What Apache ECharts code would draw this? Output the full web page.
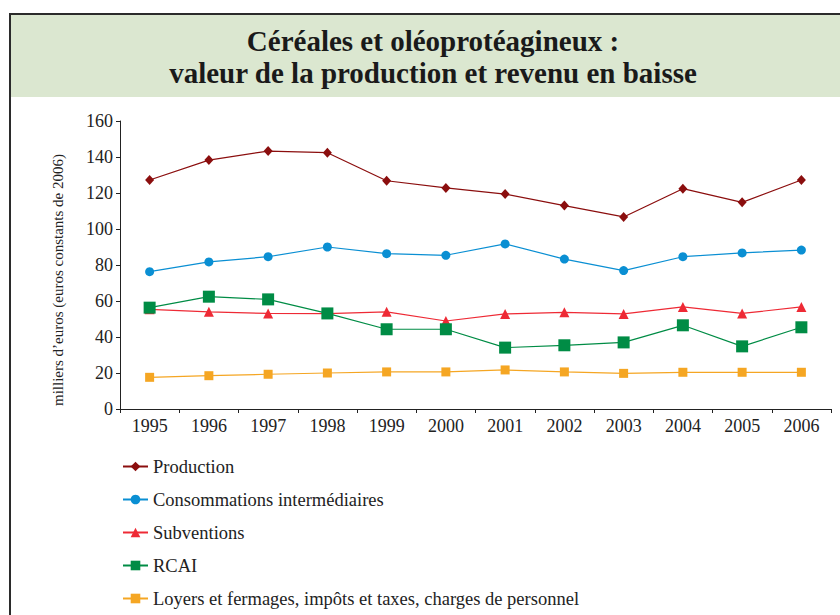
<!DOCTYPE html>
<html>
<head>
<meta charset="utf-8">
<script src="https://cdn.jsdelivr.net/npm/echarts@6/dist/echarts.min.js"></script>
<style>
  html, body { margin: 0; padding: 0; background: #fff; }
  #chart { width: 840px; height: 615px; }
</style>
</head>
<body>
<div id="chart"></div>
<script>
var years = ['1995','1996','1997','1998','1999','2000','2001','2002','2003','2004','2005','2006'];
var production = [127.2, 138.3, 143.3, 142.4, 126.8, 122.8, 119.4, 113, 106.7, 122.4, 114.8, 127.2];
var consommations = [76.3, 81.7, 84.6, 90, 86.3, 85.4, 91.7, 83.3, 76.9, 84.6, 86.7, 88.3];
var subventions = [55.4, 54, 53.1, 53, 54, 48.9, 52.8, 53.7, 52.8, 56.7, 53.1, 56.7];
var rcai = [56.3, 62.4, 60.9, 53.1, 44.3, 44.3, 34.1, 35.4, 37, 46.5, 34.8, 45.4];
var loyers = [17.6, 18.5, 19.3, 20, 20.6, 20.6, 21.7, 20.6, 19.8, 20.4, 20.4, 20.4];
var yTicks = [0, 20, 40, 60, 80, 100, 120, 140, 160];

var serif = '"Liberation Serif", "DejaVu Serif", serif';

var mychart = echarts.init(document.getElementById('chart'), null, {renderer: 'svg'});

function line(name, data, color, symbol, size) {
    return {
        name: name,
        type: 'line',
        data: data,
        symbol: symbol,
        symbolSize: size,
        showSymbol: true,
        lineStyle: { color: color, width: 1.2 },
        itemStyle: { color: color },
        emphasis: { disabled: true }
    };
}

var option = {
    animation: false,
    graphic: [
        {
            type: 'rect',
            z: -10,
            shape: { x: 10, y: 14, width: 840, height: 83 },
            style: { fill: '#dbe7d0' }
        },
        {
            type: 'rect',
            z: -9,
            shape: { x: 10, y: 14, width: 840, height: 620 },
            style: { fill: 'none', stroke: '#2b2b2b', lineWidth: 2 }
        }
    ],
    title: {
        text: 'Céréales et oléoprotéagineux :\nvaleur de la production et revenu en baisse',
        left: 428,
        top: 20,
        textAlign: 'center',
        textStyle: {
            fontFamily: serif,
            fontWeight: 'bold',
            fontSize: 29,
            lineHeight: 32,
            color: '#1a1a1a'
        }
    },
    legend: {
        orient: 'vertical',
        left: 122,
        top: 457,
        height: 200,
        padding: 0,
        itemWidth: 25,
        itemHeight: 12,
        itemGap: 14,
        textStyle: {
            fontFamily: serif,
            fontSize: 18.5,
            color: '#222'
        },
        data: ['Production', 'Consommations intermédiaires', 'Subventions', 'RCAI',
               'Loyers et fermages, impôts et taxes, charges de personnel']
    },
    grid: {
        left: 120,
        right: 9,
        top: 121,
        bottom: 206
    },
    xAxis: {
        type: 'category',
        data: years,
        boundaryGap: true,
        axisLine: { lineStyle: { color: '#222', width: 1 } },
        axisTick: { show: true, length: 4, lineStyle: { color: '#222' } },
        axisLabel: {
            interval: 0,
            margin: 8,
            fontFamily: serif,
            fontSize: 18,
            color: '#222'
        }
    },
    yAxis: {
        type: 'value',
        min: yTicks[0],
        max: yTicks[yTicks.length - 1],
        interval: 20,
        name: 'milliers d’euros (euros constants de 2006)',
        nameLocation: 'middle',
        nameRotate: 90,
        nameGap: 55,
        nameTextStyle: {
            fontFamily: serif,
            fontSize: 15,
            color: '#222',
            padding: [0, 30, 0, 0]
        },
        axisLine: { show: true, lineStyle: { color: '#222', width: 1 } },
        axisTick: { show: true, length: 4, lineStyle: { color: '#222' } },
        splitLine: { show: false },
        axisLabel: {
            margin: 7,
            fontFamily: serif,
            fontSize: 18,
            color: '#222'
        }
    },
    series: [
        line('Production', production, '#8b0e0e', 'diamond', [9, 10]),
        line('Consommations intermédiaires', consommations, '#0a8fd3', 'circle', 9),
        line('Subventions', subventions, '#ee2a35', 'triangle', 10),
        line('RCAI', rcai, '#008c45', 'rect', 12),
        line('Loyers et fermages, impôts et taxes, charges de personnel', loyers, '#f5a623', 'rect', 9)
    ]
};
mychart.setOption(option);
</script>
</body>
</html>
